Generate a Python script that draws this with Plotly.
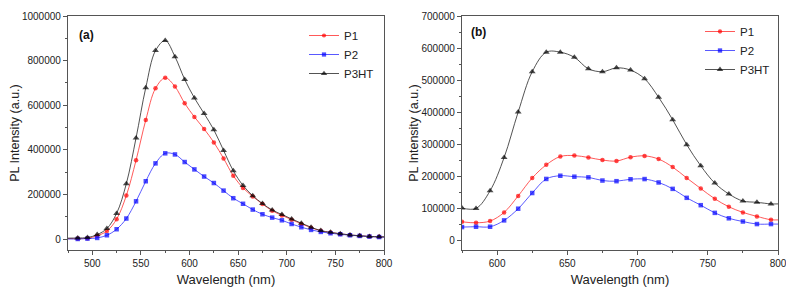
import plotly.graph_objects as go

# ---------------- data (a) ----------------
wl_a = [475, 485, 495, 505, 515, 525, 535, 545, 555, 565, 575, 585, 595, 605, 615, 625,
        635, 645, 655, 665, 675, 685, 695, 705, 715, 725, 735, 745, 755, 765, 775, 785, 795, 800]
p1_a = [3000, 3000, 4500, 16000, 37000, 90000, 196000, 354000, 534000, 676000, 723000, 684000,
        609000, 548000, 494000, 434000, 362000, 285000, 230000, 192000, 158000, 128000, 107000,
        88000, 69000, 52000, 38000, 30000, 24000, 19000, 15500, 12500, 11000, 10500]
p2_a = [1500, 1500, 3000, 6000, 18000, 45000, 93000, 170000, 260000, 340000, 385000, 380000,
        346000, 313000, 281000, 252000, 218000, 184000, 159000, 133000, 112000, 97000, 85000,
        68500, 54000, 42000, 33000, 27000, 22500, 18000, 15000, 12000, 10000, 9500]
p3_a = [5000, 6000, 7500, 21000, 48000, 116000, 249000, 454000, 679000, 845000, 890000, 818000,
        716000, 633000, 563000, 490000, 398000, 307000, 241000, 195000, 160000, 131000, 111000,
        91000, 72000, 54000, 39000, 31000, 25000, 19500, 16000, 13000, 11500, 11000]
# marker shown (1) or only line end point (0)
mk_a = [0] + [1] * 32 + [0]

# ---------------- data (b) ----------------
wl_b = [575, 585, 595, 605, 615, 625, 635, 645, 655, 665, 675, 685, 695, 705, 715, 725,
        735, 745, 755, 765, 775, 785, 795, 800]
p1_b = [57000, 54000, 59500, 86500, 138000, 194000, 235000, 261000, 264000, 258000, 250000,
        247000, 259000, 263000, 253000, 228000, 194000, 161000, 129000, 104000, 86500, 74000,
        63500, 63000]
p2_b = [40600, 41700, 41700, 61500, 98000, 147000, 191000, 201000, 198000, 196000, 186000,
        184000, 190000, 190600, 180000, 160000, 132000, 109000, 85000, 68000, 58000, 50000,
        50000, 50000]
p3_b = [100000, 99000, 154000, 258000, 400000, 526000, 587000, 587000, 571000, 535000, 526000,
        538000, 531000, 504000, 446000, 376000, 298000, 232000, 178000, 144000, 122000, 118000,
        113000, 113000]
mk_b = [1] * 23 + [0]

names = ["P1", "P2", "P3HT"]
mcol = ["#ff0000", "#0000ff", "#000000"]
lcol = ["rgba(255,60,60,0.85)", "rgba(60,60,255,0.85)", "rgba(40,40,40,0.8)"]
syms = ["circle", "square", "triangle-up"]
msz = [4.5, 4.5, 6]

fig = go.Figure()
for wl, series, mk, xa, ya, lg in [(wl_a, [p1_a, p2_a, p3_a], mk_a, "x", "y", "legend"),
                                   (wl_b, [p1_b, p2_b, p3_b], mk_b, "x2", "y2", "legend2")]:
    for i, ys in enumerate(series):
        fig.add_trace(go.Scatter(
            x=wl, y=ys, name=names[i], xaxis=xa, yaxis=ya, legend=lg,
            mode="lines+markers",
            line=dict(color=lcol[i], width=1, shape="spline", smoothing=1.0),
            marker=dict(symbol=syms[i], color=mcol[i], size=[msz[i] * m for m in mk],
                        line=dict(width=0)),
            cliponaxis=True,
        ))

W, H = 786, 286  # page body adds an 8 px margin
axcol = "#555555"
font = "Arial, Liberation Sans, sans-serif"
common_x = dict(showline=True, mirror=True, linecolor=axcol, linewidth=1.3, ticks="outside",
                ticklen=4, tickcolor=axcol, showgrid=False, zeroline=False, automargin=False,
                tickfont=dict(size=10, color="#222"), dtick=50,
                minor=dict(ticks="outside", ticklen=2, dtick=25, tickcolor=axcol, showgrid=False),
                title=dict(text="Wavelength (nm)", font=dict(size=13, color="#222"), standoff=6))
common_y = dict(showline=True, mirror=True, linecolor=axcol, linewidth=1.3, ticks="outside",
                ticklen=4, tickcolor=axcol, showgrid=False, zeroline=False, automargin=False,
                tickfont=dict(size=10, color="#222"), tickformat="d",
                title=dict(text="PL Intensity (a.u.)", font=dict(size=12.5, color="#222"), standoff=0))

fig.update_layout(
    width=W, height=H,
    margin=dict(l=0, r=0, t=8, b=44, autoexpand=False),
    paper_bgcolor="white", plot_bgcolor="white",
    font=dict(family=font, color="#222"),
    xaxis=dict(common_x, domain=[60 / W, 376 / W], range=[475, 800], anchor="y"),
    yaxis=dict(common_y, range=[-48000, 1000000], dtick=200000, anchor="x",
               minor=dict(ticks="outside", ticklen=2, dtick=100000, tickcolor=axcol, showgrid=False)),
    xaxis2=dict(common_x, domain=[454 / W, 770 / W], range=[575, 800], anchor="y2"),
    yaxis2=dict(common_y, range=[-31000, 700000], dtick=100000, anchor="x2",
                minor=dict(ticks="outside", ticklen=2, dtick=50000, tickcolor=axcol, showgrid=False)),
    legend=dict(x=296 / W, y=1.0 - 5 / 234, xanchor="left", yanchor="top",
                bgcolor="rgba(0,0,0,0)", font=dict(size=11.5, color="#222"), itemwidth=30,
                tracegroupgap=0),
    legend2=dict(x=692 / W, y=1.0 - 1 / 234, xanchor="left", yanchor="top",
                 bgcolor="rgba(0,0,0,0)", font=dict(size=11.5, color="#222"), itemwidth=30,
                 tracegroupgap=0),
    annotations=[
        dict(text="<b>(a)</b>", x=69 / W, y=1.0 - 19 / 234, xref="paper", yref="paper",
             xanchor="left", yanchor="middle", showarrow=False, font=dict(size=12, color="#111")),
        dict(text="<b>(b)</b>", x=461 / W, y=1.0 - 16 / 234, xref="paper", yref="paper",
             xanchor="left", yanchor="middle", showarrow=False, font=dict(size=12, color="#111")),
    ],
)

fig.write_html("out.html")
